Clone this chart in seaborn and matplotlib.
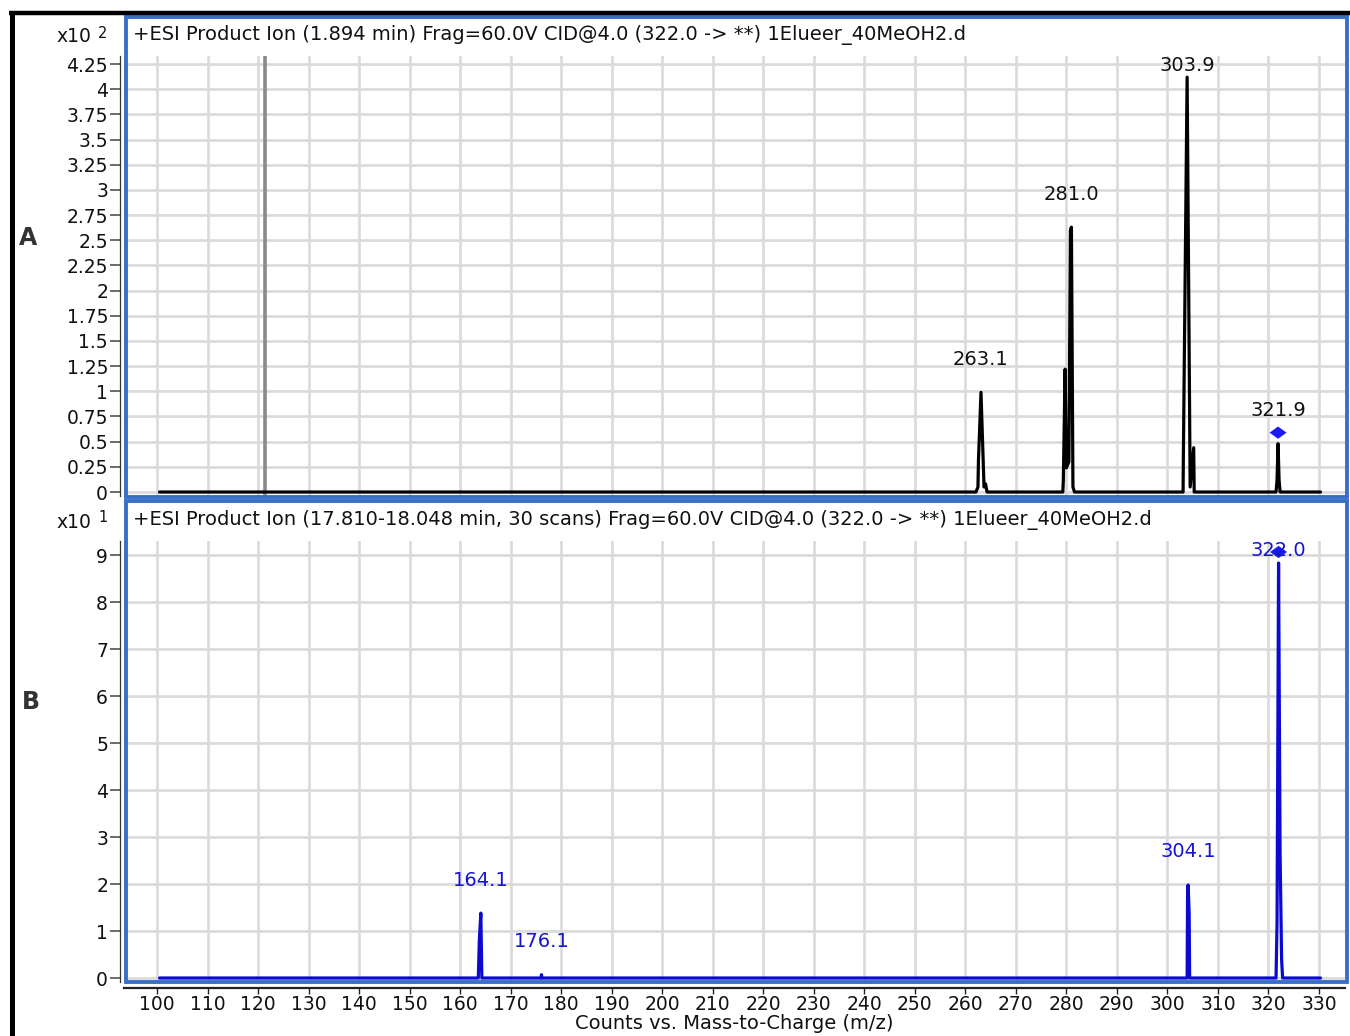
import matplotlib
matplotlib.use("Agg")
import matplotlib.pyplot as plt
import seaborn as sns
import pandas as pd
from matplotlib.patches import Rectangle
from matplotlib.lines import Line2D
from matplotlib.path import Path

# ---- Spectrum A: +ESI product ion, 1.894 min (counts x10^2) ----
mz_a = [100.5, 262.1, 262.5, 262.6, 263.1, 263.7, 264.0, 264.3,
        279.3, 279.4, 279.75, 280.0, 280.5, 280.8, 281.0, 281.3, 281.6,
        303.1, 303.15, 303.9, 304.5, 305.2, 305.3, 305.5,
        321.5, 321.7, 321.9, 322.1, 322.3, 330.3]
counts_a = [0.0, 0.0, 0.05, 0.32, 0.99, 0.05, 0.08, 0.0,
            0.0, 0.12, 1.22, 0.24, 0.30, 2.60, 2.63, 0.05, 0.0,
            0.0, 0.32, 4.12, 0.05, 0.44, 0.0, 0.0,
            0.0, 0.12, 0.48, 0.12, 0.0, 0.0]
labels_a = [263.1, 281.0, 303.9, 321.9]
precursor_a = 321.9
yticks_a = [0, 0.25, 0.5, 0.75, 1, 1.25, 1.5, 1.75, 2, 2.25, 2.5, 2.75,
            3, 3.25, 3.5, 3.75, 4, 4.25]
ytick_labels_a = ["0", "0.25", "0.5", "0.75", "1", "1.25", "1.5", "1.75", "2",
                  "2.25", "2.5", "2.75", "3", "3.25", "3.5", "3.75", "4", "4.25"]
title_a = "+ESI Product Ion (1.894 min) Frag=60.0V CID@4.0 (322.0 -> **) 1Elueer_40MeOH2.d"
scan_marker_mz = 121.3

# ---- Spectrum B: +ESI product ion, 17.810-18.048 min (counts x10^1) ----
mz_b = [100.5, 163.6, 163.8, 164.1, 164.3, 176.0, 176.1, 176.2,
        303.9, 304.0, 304.1, 304.3, 304.4,
        321.5, 321.7, 322.0, 322.3, 322.6, 322.8, 330.3]
counts_b = [0.0, 0.0, 0.80, 1.38, 0.0, 0.0, 0.07, 0.0,
            0.0, 1.90, 1.98, 1.40, 0.0,
            0.0, 1.20, 8.83, 2.66, 0.40, 0.0, 0.0]
labels_b = [164.1, 176.1, 304.1, 322.0]
precursor_b = 322.0
yticks_b = [0, 1, 2, 3, 4, 5, 6, 7, 8, 9]
ytick_labels_b = ["0", "1", "2", "3", "4", "5", "6", "7", "8", "9"]
title_b = ("+ESI Product Ion (17.810-18.048 min, 30 scans) Frag=60.0V CID@4.0 "
           "(322.0 -> **) 1Elueer_40MeOH2.d")

xticks = list(range(100, 331, 10))
xlabel = "Counts vs. Mass-to-Charge (m/z)"

sns.set_theme(style="whitegrid")
plt.rcParams['font.family'] = ['DejaVu Sans']

W, H = 1350, 1036
fig = plt.figure(figsize=(W / 100, H / 100), dpi=100)
fig.patch.set_facecolor("white")


def fx(px):
    return px / W


def fy(py):
    return 1 - py / H


BOX = "#3a6fc6"
GRID = "#dadada"
BLUE = "#0a0ad2"
TXT = "#111111"
FS = 14
TICK_FS = 13.5

axA = fig.add_axes([fx(124), fy(496), fx(1345) - fx(124), fy(56) - fy(496)])
axB = fig.add_axes([fx(124), fy(982), fx(1345) - fx(124), fy(541) - fy(982)])

diamond = Path([(-1.0, 0.0), (0.0, 0.72), (1.0, 0.0), (0.0, -0.72), (-1.0, 0.0)],
               [Path.MOVETO, Path.LINETO, Path.LINETO, Path.LINETO, Path.CLOSEPOLY])


def style_axes(ax, ylim, yticks, yticklabels):
    ax.set_facecolor("white")
    ax.set_xlim(93.47, 335.15)
    ax.set_ylim(*ylim)
    ax.set_xticks(xticks)
    ax.set_yticks(yticks)
    ax.set_yticklabels(yticklabels)
    ax.grid(True, color=GRID, lw=1.9)
    ax.set_axisbelow(True)
    for s in ax.spines.values():
        s.set_visible(False)
    ax.spines["left"].set_visible(True)
    ax.spines["left"].set_color("#333333")
    ax.spines["left"].set_linewidth(0.9)
    ax.spines["left"].set_position(("outward", 3))
    ax.tick_params(axis="y", left=True, length=7, width=1.1, color="#444444",
                   labelsize=TICK_FS, pad=1.5, labelcolor=TXT)


def draw_spectrum(ax, mz, counts, color, labels, precursor, label_color):
    df = pd.DataFrame({"mz": mz, "counts": counts})
    sns.lineplot(data=df, x="mz", y="counts", ax=ax, color=color, lw=2.3,
                 sort=False, estimator=None, zorder=4)
    fig.canvas.draw()
    top_disp = ax.transAxes.transform((0, 1))[1]
    inv = ax.transData.inverted()
    for lab in labels:
        near = [c for m, c in zip(mz, counts) if abs(m - lab) <= 0.5]
        peak = max(near)
        px, py = ax.transData.transform((lab, peak))
        ty = min(py + 33, top_disp - 9.5)
        _, ly = inv.transform((px, ty))
        ax.text(lab, ly, f"{lab:.1f}", ha="center", va="center",
                color=label_color, fontsize=FS, zorder=6)
        if lab == precursor:
            dy = min(py + 11, top_disp - 10)
            _, dly = inv.transform((px, dy))
            pdf = pd.DataFrame({"mz": [lab], "counts": [dly]})
            sns.scatterplot(data=pdf, x="mz", y="counts", ax=ax, marker=diamond,
                            s=150, color="#1a1af5", edgecolor="none", zorder=5,
                            legend=False)
    ax.set_xlabel("")
    ax.set_ylabel("")


style_axes(axA, (-0.0397, 4.33), yticks_a, ytick_labels_a)
style_axes(axB, (-0.085, 9.298), yticks_b, ytick_labels_b)

axA.axvline(scan_marker_mz, color="#8a8a8a", lw=2.6, zorder=3)
draw_spectrum(axA, mz_a, counts_a, "black", labels_a, precursor_a, TXT)
draw_spectrum(axB, mz_b, counts_b, BLUE, labels_b, precursor_b, "#1414d2")

axA.tick_params(axis="x", bottom=False, labelbottom=False)
axB.spines["bottom"].set_visible(True)
axB.spines["bottom"].set_color("#222222")
axB.spines["bottom"].set_linewidth(1.6)
axB.spines["bottom"].set_position(("outward", 4))
axB.tick_params(axis="x", bottom=True, length=4, width=1.0, color="#222222",
                labelsize=TICK_FS, pad=1.5, labelcolor=TXT)
axB.set_xlabel(xlabel, fontsize=FS, labelpad=0, color=TXT)

# panel frames
fig.add_artist(Rectangle((fx(125.5), fy(496.5)), fx(1347.5) - fx(125.5),
                         fy(16.5) - fy(496.5), transform=fig.transFigure,
                         fill=False, ec=BOX, lw=2.8, zorder=10))
fig.add_artist(Rectangle((fx(125.5), fy(981.5)), fx(1347.5) - fx(125.5),
                         fy(501.5) - fy(981.5), transform=fig.transFigure,
                         fill=False, ec=BOX, lw=2.8, zorder=10))

# outer black frame
fig.add_artist(Line2D([fx(9), fx(1350)], [fy(13), fy(13)], transform=fig.transFigure,
                      color="black", lw=3.2, solid_capstyle="butt", zorder=11))
fig.add_artist(Line2D([fx(11.5), fx(11.5)], [fy(11), fy(1036)], transform=fig.transFigure,
                      color="black", lw=3.6, solid_capstyle="butt", zorder=11))

# panel headers
fig.text(fx(133), fy(35), title_a, ha="left", va="center", fontsize=FS, color=TXT)
fig.text(fx(133), fy(520), title_b, ha="left", va="center", fontsize=FS, color=TXT)

# intensity multipliers
fig.text(fx(91), fy(37), "x10", ha="right", va="center", fontsize=TICK_FS, color=TXT)
fig.text(fx(98), fy(33), "2", ha="left", va="center", fontsize=10.5, color=TXT)
fig.text(fx(91), fy(522), "x10", ha="right", va="center", fontsize=TICK_FS, color=TXT)
fig.text(fx(98), fy(518), "1", ha="left", va="center", fontsize=10.5, color=TXT)

# panel letters
fig.text(fx(28), fy(238), "A", ha="center", va="center", fontsize=17,
         fontweight="bold", color="#333333")
fig.text(fx(31), fy(702), "B", ha="center", va="center", fontsize=17,
         fontweight="bold", color="#333333")

fig.savefig("out.png", dpi=100, facecolor="white")
